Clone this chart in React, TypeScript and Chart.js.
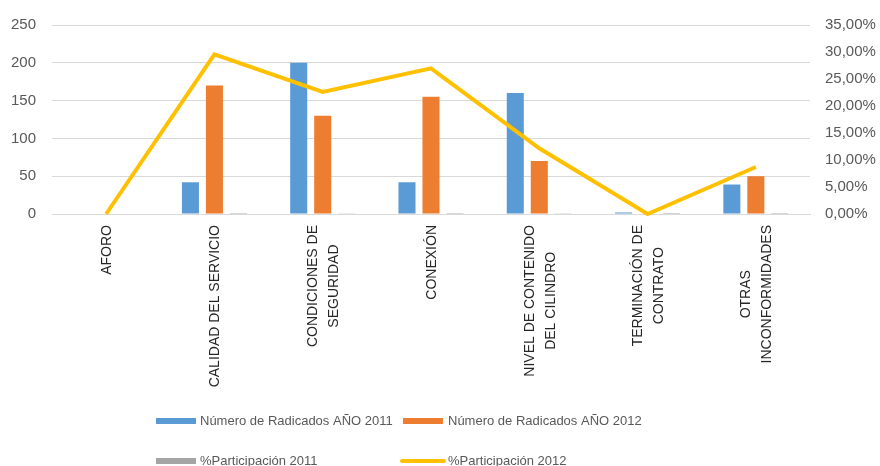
import React, { useEffect, useRef } from "react";
import { Chart, registerables } from "chart.js";

Chart.register(...registerables);

const categories: string[][] = [
  ["AFORO"],
  ["CALIDAD DEL SERVICIO"],
  ["CONDICIONES DE", "SEGURIDAD"],
  ["CONEXIÓN"],
  ["NIVEL DE CONTENIDO", "DEL CILINDRO"],
  ["TERMINACIÓN DE", "CONTRATO"],
  ["OTRAS", "INCONFORMIDADES"],
];

const radicados2011: number[] = [0, 42, 200, 42, 160, 2, 39];
const radicados2012: number[] = [0, 170, 130, 155, 70, 0, 50];
const participacion2011: number[] = [0, 0.0866, 0.4124, 0.0866, 0.3299, 0.0041, 0.0804];
const participacion2012: number[] = [0, 0.2957, 0.2261, 0.2696, 0.1217, 0, 0.087];

const leftTicks: number[] = [0, 50, 100, 150, 200, 250];
const rightTicks: number[] = [0, 0.05, 0.1, 0.15, 0.2, 0.25, 0.3, 0.35];

const seriesLabels: string[] = [
  "Número de Radicados AÑO 2011",
  "Número de Radicados AÑO 2012",
  "%Participación 2011",
  "%Participación 2012",
];

const FONT = '"Liberation Sans", Arial, sans-serif';
const TEXT = "#595959";
const GRID = "#d9d9d9";

// Draws the rotated, centred, multi-line category labels under the x axis
const xLabelPlugin = {
  id: "xLabels",
  afterDraw(chart: any) {
    const ctx = chart.ctx;
    const xs = chart.scales.x;
    const labels: string[][] = chart.data.labels;
    const top = chart.chartArea.bottom + 11;
    const lh = 21;
    ctx.save();
    ctx.font = `14px ${FONT}`;
    ctx.fillStyle = "#262626";
    ctx.textAlign = "center";
    ctx.textBaseline = "middle";
    labels.forEach((lines, i) => {
      const x = xs.getPixelForValue(i);
      const maxW = Math.max(...lines.map((l) => ctx.measureText(l).width));
      ctx.save();
      ctx.translate(x, top + maxW / 2);
      ctx.rotate(-Math.PI / 2);
      lines.forEach((l, j) => {
        ctx.fillText(l, 0, (j - (lines.length - 1) / 2) * lh + 1);
      });
      ctx.restore();
    });
    ctx.restore();
  },
};

const legendPlugin = {
  id: "customLegend",
  afterDraw(chart: any) {
    const ctx = chart.ctx;
    const ds = chart.data.datasets;
    ctx.save();
    ctx.font = `13px ${FONT}`;
    ctx.textBaseline = "middle";
    const rows = [
      { i: 0, x: 156, y: 421, tx: 200 },
      { i: 1, x: 403, y: 421, tx: 448 },
      { i: 2, x: 156, y: 461, tx: 200 },
      { i: 3, x: 400, y: 461, tx: 448 },
    ];
    rows.forEach((r) => {
      const d = ds[r.i];
      if (d.type === "line") {
        ctx.strokeStyle = d.borderColor;
        ctx.lineWidth = 4;
        ctx.lineCap = "round";
        ctx.beginPath();
        ctx.moveTo(r.x + 2, r.y);
        ctx.lineTo(r.x + 44, r.y);
        ctx.stroke();
      } else {
        ctx.fillStyle = d.backgroundColor;
        ctx.fillRect(r.x, r.y - 3, 40, 6);
      }
      ctx.fillStyle = TEXT;
      ctx.fillText(d.label, r.tx, r.y);
    });
    ctx.restore();
  },
};

export default function App() {
  const ref = useRef<HTMLCanvasElement | null>(null);

  useEffect(() => {
    if (!ref.current) return;
    const chart = new Chart(ref.current, {
      type: "bar",
      data: {
        labels: categories as any,
        datasets: [
          {
            type: "bar",
            label: seriesLabels[0],
            data: radicados2011,
            backgroundColor: "#5B9BD5",
            yAxisID: "y",
            order: 1,
            categoryPercentage: 0.665,
            barPercentage: 0.71,
          },
          {
            type: "bar",
            label: seriesLabels[1],
            data: radicados2012,
            backgroundColor: "#ED7D31",
            yAxisID: "y",
            order: 1,
            categoryPercentage: 0.665,
            barPercentage: 0.71,
          },
          {
            type: "bar",
            label: seriesLabels[2],
            data: participacion2011,
            backgroundColor: "#A5A5A5",
            yAxisID: "y",
            order: 1,
            inflateAmount: 0,
            categoryPercentage: 0.665,
            barPercentage: 0.71,
          } as any,
          {
            type: "line",
            label: seriesLabels[3],
            data: participacion2012,
            borderColor: "#FFC000",
            backgroundColor: "#FFC000",
            borderWidth: 4,
            pointRadius: 0,
            yAxisID: "y1",
            order: 0,
            clip: 6,
            tension: 0,
          } as any,
        ],
      },
      options: {
        animation: false,
        responsive: false,
        maintainAspectRatio: false,
        layout: { padding: { top: 24, left: 0, right: 0, bottom: 0 } },
        plugins: {
          legend: { display: false },
          tooltip: { enabled: false },
        },
        scales: {
          x: {
            grid: { display: false, drawTicks: false, tickLength: 0 },
            border: { display: true, color: GRID },
            ticks: { display: false },
            afterFit: (s: any) => {
              s.height = 252;
            },
          },
          y: {
            position: "left",
            min: 0,
            max: 250,
            afterBuildTicks: (s: any) => {
              s.ticks = leftTicks.map((v) => ({ value: v }));
            },
            grid: { color: GRID, drawTicks: false, tickLength: 0 },
            border: { display: false },
            ticks: {
              padding: 16,
              color: TEXT,
              font: { family: FONT, size: 15 },
            },
            afterFit: (s: any) => {
              s.width = 52;
            },
          },
          y1: {
            position: "right",
            min: 0,
            max: 0.35,
            afterBuildTicks: (s: any) => {
              s.ticks = rightTicks.map((v) => ({ value: v }));
            },
            grid: { display: false, drawTicks: false, tickLength: 0 },
            border: { display: false },
            ticks: {
              padding: 15,
              color: TEXT,
              font: { family: FONT, size: 15 },
              callback: (v: any) => (Number(v) * 100).toFixed(2).replace(".", ",") + "%",
            },
            afterFit: (s: any) => {
              s.width = 70;
            },
          },
        },
      },
      plugins: [xLabelPlugin, legendPlugin],
    });
    return () => chart.destroy();
  }, []);

  return (
    <div style={{ position: "fixed", left: 0, top: 0, width: 880, height: 466, background: "#fff" }}>
      <canvas ref={ref} width={880} height={466} style={{ width: 880, height: 466, display: "block" }} />
    </div>
  );
}
